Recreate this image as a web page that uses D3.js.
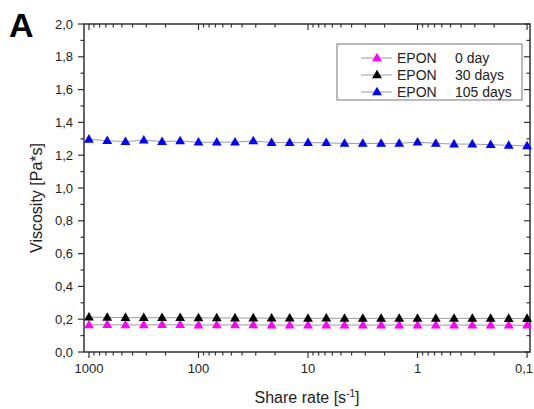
<!DOCTYPE html>
<html>
<head>
<meta charset="utf-8">
<script src="https://cdn.jsdelivr.net/npm/d3@7"></script>
<style>
  body { margin: 0; background: white; }
  text { font-family: "Liberation Sans", Arial, sans-serif; }
</style>
</head>
<body>
<svg width="534" height="409"></svg>
<script>
// shear rate values (s^-1), measured high to low
var rates = [1000, 681, 464, 316, 215, 147, 100, 68.1, 46.4, 31.6, 21.5, 14.7,
  10, 6.81, 4.64, 3.16, 2.15, 1.47, 1, 0.681, 0.464, 0.316, 0.215, 0.147, 0.1];

var day0 = [0.165, 0.166, 0.165, 0.165, 0.166, 0.166, 0.164, 0.165, 0.165, 0.165, 0.164, 0.164,
  0.164, 0.164, 0.164, 0.164, 0.164, 0.164, 0.164, 0.164, 0.164, 0.164, 0.164, 0.163, 0.163];
var day30 = [0.212, 0.211, 0.210, 0.209, 0.209, 0.209, 0.208, 0.208, 0.207, 0.207, 0.206, 0.206,
  0.205, 0.206, 0.205, 0.205, 0.205, 0.205, 0.205, 0.205, 0.205, 0.205, 0.205, 0.204, 0.204];
var day105 = [1.297, 1.288, 1.283, 1.292, 1.283, 1.287, 1.279, 1.279, 1.280, 1.287, 1.277, 1.277,
  1.276, 1.276, 1.272, 1.272, 1.272, 1.272, 1.280, 1.272, 1.268, 1.268, 1.264, 1.260, 1.256];

var seriesNames = ["EPON", "EPON", "EPON"];
var seriesAges = ["0 day", "30 days", "105 days"];
var seriesColors = ["#ff00ff", "#000000", "#0000ff"];
var seriesValues = [day0, day30, day105];

var xTicks = [1000, 100, 10, 1, 0.1];
var yTicks = [0, 0.2, 0.4, 0.6, 0.8, 1.0, 1.2, 1.4, 1.6, 1.8, 2.0];

var svg = d3.select("svg");
var pLeft = 84, pRight = 530, pTop = 24, pBottom = 352;

var x = d3.scaleLog().domain([1110, 0.094]).range([pLeft, pRight]);
var y = d3.scaleLinear().domain([0, 2]).range([pBottom, pTop]);

var fmt = function(d) { return d3.format(".1f")(d).replace(".", ","); };
var fmtX = function(d) { return String(d).replace(".", ","); };

// minor ticks
var minorX = [];
[100, 10, 1, 0.1].forEach(function(dec) {
  for (var k = 2; k <= 9; k++) minorX.push(dec * k);
});
var minorY = d3.range(0.1, 2.0, 0.2);

var axisColor = "#333";

// frame
svg.append("rect")
  .attr("x", pLeft).attr("y", pTop)
  .attr("width", pRight - pLeft).attr("height", pBottom - pTop)
  .attr("fill", "none").attr("stroke", axisColor).attr("stroke-width", 1.5);

var ticks = svg.append("g").attr("stroke", axisColor).attr("stroke-width", 1.2);

// bottom (outward) and top (inward) x ticks
xTicks.forEach(function(v) {
  ticks.append("line").attr("x1", x(v)).attr("x2", x(v)).attr("y1", pBottom).attr("y2", pBottom + 6);
  ticks.append("line").attr("x1", x(v)).attr("x2", x(v)).attr("y1", pTop).attr("y2", pTop + 6);
});
minorX.forEach(function(v) {
  ticks.append("line").attr("x1", x(v)).attr("x2", x(v)).attr("y1", pBottom).attr("y2", pBottom + 3.5);
  ticks.append("line").attr("x1", x(v)).attr("x2", x(v)).attr("y1", pTop).attr("y2", pTop + 3.5);
});

// left (outward) and right (inward) y ticks
yTicks.forEach(function(v) {
  ticks.append("line").attr("x1", pLeft - 6).attr("x2", pLeft).attr("y1", y(v)).attr("y2", y(v));
  ticks.append("line").attr("x1", pRight - 6).attr("x2", pRight).attr("y1", y(v)).attr("y2", y(v));
});
minorY.forEach(function(v) {
  ticks.append("line").attr("x1", pLeft - 3.5).attr("x2", pLeft).attr("y1", y(v)).attr("y2", y(v));
  ticks.append("line").attr("x1", pRight - 3.5).attr("x2", pRight).attr("y1", y(v)).attr("y2", y(v));
});

// tick labels
svg.append("g").selectAll("text").data(yTicks).enter().append("text")
  .attr("x", pLeft - 11).attr("y", function(d) { return y(d); })
  .attr("dy", "0.36em").attr("text-anchor", "end")
  .attr("font-size", 13).attr("fill", "#222")
  .text(fmt);

// last label sits against the window edge, so keep it inside
svg.append("g").selectAll("text").data(xTicks).enter().append("text")
  .attr("x", function(d, i) { return i === xTicks.length - 1 ? 533 : x(d); })
  .attr("y", pBottom + 21)
  .attr("text-anchor", function(d, i) { return i === xTicks.length - 1 ? "end" : "middle"; })
  .attr("font-size", 13).attr("fill", "#222")
  .text(fmtX);

// axis titles
svg.append("text")
  .attr("transform", "translate(42,198) rotate(-90)")
  .attr("text-anchor", "middle").attr("font-size", 16).attr("fill", "#222")
  .text("Viscosity [Pa*s]");

var xt = svg.append("text")
  .attr("x", 307).attr("y", 403)
  .attr("text-anchor", "middle").attr("font-size", 16).attr("fill", "#222");
xt.append("tspan").text("Share rate [s");
xt.append("tspan").attr("font-size", 10).attr("dy", -6).text("-1");
xt.append("tspan").attr("dy", 6).text("]");

svg.append("text")
  .attr("x", 9).attr("y", 37)
  .attr("font-size", 34).attr("font-weight", "bold").attr("fill", "#000")
  .text("A");

// series
var tri = d3.symbol().type(d3.symbolTriangle).size(42);
var line = d3.line()
  .x(function(d) { return x(d[0]); })
  .y(function(d) { return y(d[1]); });

seriesValues.forEach(function(vals, i) {
  var pts = rates.map(function(r, j) { return [r, vals[j]]; });
  svg.append("path").datum(pts)
    .attr("d", line)
    .attr("fill", "none").attr("stroke", "#9a9a9a").attr("stroke-width", 1);
  svg.append("g").selectAll("path").data(pts).enter().append("path")
    .attr("d", tri)
    .attr("transform", function(d) { return "translate(" + x(d[0]) + "," + (y(d[1]) + 0.5) + ")"; })
    .attr("fill", seriesColors[i]);
});

// legend
var lg = svg.append("g");
lg.append("rect")
  .attr("x", 337).attr("y", 44).attr("width", 185).attr("height", 56)
  .attr("fill", "white").attr("stroke", "#777").attr("stroke-width", 1);
seriesColors.forEach(function(c, i) {
  var ly = 58 + i * 17;
  lg.append("line").attr("x1", 361).attr("x2", 392).attr("y1", ly).attr("y2", ly)
    .attr("stroke", "#9a9a9a").attr("stroke-width", 1);
  lg.append("path").attr("d", tri)
    .attr("transform", "translate(377," + (ly + 0.5) + ")").attr("fill", c);
  lg.append("text").attr("x", 397).attr("y", ly).attr("dy", "0.36em")
    .attr("font-size", 14).attr("fill", "#222").text(seriesNames[i]);
  lg.append("text").attr("x", 455).attr("y", ly).attr("dy", "0.36em")
    .attr("font-size", 14).attr("fill", "#222").text(seriesAges[i]);
});
</script>
</body>
</html>
